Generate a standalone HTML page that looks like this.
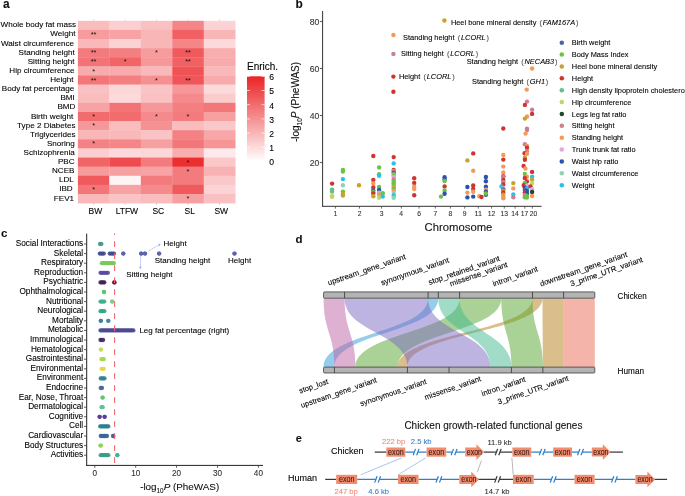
<!DOCTYPE html>
<html><head><meta charset="utf-8"><style>
html,body{margin:0;padding:0;background:#fff;}
svg{display:block;font-family:"Liberation Sans",sans-serif;filter:blur(0.3px);}
</style></head><body>
<svg width="685" height="496" viewBox="0 0 685 496" font-family="Liberation Sans, sans-serif">
<rect x="77.90" y="20.80" width="31.76" height="9.42" fill="rgb(249,189,190)"/>
<rect x="109.36" y="20.80" width="31.76" height="9.42" fill="rgb(251,207,208)"/>
<rect x="140.82" y="20.80" width="31.76" height="9.42" fill="rgb(249,193,194)"/>
<rect x="172.28" y="20.80" width="31.76" height="9.42" fill="rgb(244,134,136)"/>
<rect x="203.74" y="20.80" width="31.76" height="9.42" fill="rgb(251,211,212)"/>
<rect x="77.90" y="29.91" width="31.76" height="9.42" fill="rgb(246,156,157)"/>
<rect x="109.36" y="29.91" width="31.76" height="9.42" fill="rgb(247,163,165)"/>
<rect x="140.82" y="29.91" width="31.76" height="9.42" fill="rgb(248,182,183)"/>
<rect x="172.28" y="29.91" width="31.76" height="9.42" fill="rgb(241,97,99)"/>
<rect x="203.74" y="29.91" width="31.76" height="9.42" fill="rgb(248,182,183)"/>
<rect x="77.90" y="39.03" width="31.76" height="9.42" fill="rgb(249,185,186)"/>
<rect x="109.36" y="39.03" width="31.76" height="9.42" fill="rgb(251,211,212)"/>
<rect x="140.82" y="39.03" width="31.76" height="9.42" fill="rgb(248,182,183)"/>
<rect x="172.28" y="39.03" width="31.76" height="9.42" fill="rgb(244,134,136)"/>
<rect x="203.74" y="39.03" width="31.76" height="9.42" fill="rgb(252,218,219)"/>
<rect x="77.90" y="48.14" width="31.76" height="9.42" fill="rgb(243,123,125)"/>
<rect x="109.36" y="48.14" width="31.76" height="9.42" fill="rgb(243,127,128)"/>
<rect x="140.82" y="48.14" width="31.76" height="9.42" fill="rgb(246,156,157)"/>
<rect x="172.28" y="48.14" width="31.76" height="9.42" fill="rgb(240,90,92)"/>
<rect x="203.74" y="48.14" width="31.76" height="9.42" fill="rgb(248,174,175)"/>
<rect x="77.90" y="57.26" width="31.76" height="9.42" fill="rgb(242,116,118)"/>
<rect x="109.36" y="57.26" width="31.76" height="9.42" fill="rgb(241,101,103)"/>
<rect x="140.82" y="57.26" width="31.76" height="9.42" fill="rgb(246,152,154)"/>
<rect x="172.28" y="57.26" width="31.76" height="9.42" fill="rgb(241,97,99)"/>
<rect x="203.74" y="57.26" width="31.76" height="9.42" fill="rgb(247,171,172)"/>
<rect x="77.90" y="66.38" width="31.76" height="9.42" fill="rgb(247,171,172)"/>
<rect x="109.36" y="66.38" width="31.76" height="9.42" fill="rgb(247,171,172)"/>
<rect x="140.82" y="66.38" width="31.76" height="9.42" fill="rgb(249,185,186)"/>
<rect x="172.28" y="66.38" width="31.76" height="9.42" fill="rgb(239,83,85)"/>
<rect x="203.74" y="66.38" width="31.76" height="9.42" fill="rgb(249,185,186)"/>
<rect x="77.90" y="75.49" width="31.76" height="9.42" fill="rgb(243,119,121)"/>
<rect x="109.36" y="75.49" width="31.76" height="9.42" fill="rgb(243,127,128)"/>
<rect x="140.82" y="75.49" width="31.76" height="9.42" fill="rgb(245,145,146)"/>
<rect x="172.28" y="75.49" width="31.76" height="9.42" fill="rgb(240,86,89)"/>
<rect x="203.74" y="75.49" width="31.76" height="9.42" fill="rgb(247,171,172)"/>
<rect x="77.90" y="84.61" width="31.76" height="9.42" fill="rgb(249,193,194)"/>
<rect x="109.36" y="84.61" width="31.76" height="9.42" fill="rgb(251,215,215)"/>
<rect x="140.82" y="84.61" width="31.76" height="9.42" fill="rgb(250,196,197)"/>
<rect x="172.28" y="84.61" width="31.76" height="9.42" fill="rgb(246,152,154)"/>
<rect x="203.74" y="84.61" width="31.76" height="9.42" fill="rgb(252,218,219)"/>
<rect x="77.90" y="93.72" width="31.76" height="9.42" fill="rgb(249,189,190)"/>
<rect x="109.36" y="93.72" width="31.76" height="9.42" fill="rgb(252,218,219)"/>
<rect x="140.82" y="93.72" width="31.76" height="9.42" fill="rgb(249,193,194)"/>
<rect x="172.28" y="93.72" width="31.76" height="9.42" fill="rgb(244,138,139)"/>
<rect x="203.74" y="93.72" width="31.76" height="9.42" fill="rgb(250,204,204)"/>
<rect x="77.90" y="102.83" width="31.76" height="9.42" fill="rgb(247,163,165)"/>
<rect x="109.36" y="102.83" width="31.76" height="9.42" fill="rgb(242,116,118)"/>
<rect x="140.82" y="102.83" width="31.76" height="9.42" fill="rgb(246,152,154)"/>
<rect x="172.28" y="102.83" width="31.76" height="9.42" fill="rgb(243,127,128)"/>
<rect x="203.74" y="102.83" width="31.76" height="9.42" fill="rgb(243,119,121)"/>
<rect x="77.90" y="111.95" width="31.76" height="9.42" fill="rgb(242,108,110)"/>
<rect x="109.36" y="111.95" width="31.76" height="9.42" fill="rgb(242,108,110)"/>
<rect x="140.82" y="111.95" width="31.76" height="9.42" fill="rgb(244,138,139)"/>
<rect x="172.28" y="111.95" width="31.76" height="9.42" fill="rgb(243,123,125)"/>
<rect x="203.74" y="111.95" width="31.76" height="9.42" fill="rgb(246,160,161)"/>
<rect x="77.90" y="121.06" width="31.76" height="9.42" fill="rgb(246,152,154)"/>
<rect x="109.36" y="121.06" width="31.76" height="9.42" fill="rgb(249,189,190)"/>
<rect x="140.82" y="121.06" width="31.76" height="9.42" fill="rgb(245,145,146)"/>
<rect x="172.28" y="121.06" width="31.76" height="9.42" fill="rgb(249,189,190)"/>
<rect x="203.74" y="121.06" width="31.76" height="9.42" fill="rgb(250,200,201)"/>
<rect x="77.90" y="130.18" width="31.76" height="9.42" fill="rgb(248,182,183)"/>
<rect x="109.36" y="130.18" width="31.76" height="9.42" fill="rgb(249,185,186)"/>
<rect x="140.82" y="130.18" width="31.76" height="9.42" fill="rgb(250,196,197)"/>
<rect x="172.28" y="130.18" width="31.76" height="9.42" fill="rgb(244,130,132)"/>
<rect x="203.74" y="130.18" width="31.76" height="9.42" fill="rgb(247,167,168)"/>
<rect x="77.90" y="139.30" width="31.76" height="9.42" fill="rgb(244,130,132)"/>
<rect x="109.36" y="139.30" width="31.76" height="9.42" fill="rgb(244,134,136)"/>
<rect x="140.82" y="139.30" width="31.76" height="9.42" fill="rgb(246,160,161)"/>
<rect x="172.28" y="139.30" width="31.76" height="9.42" fill="rgb(243,119,121)"/>
<rect x="203.74" y="139.30" width="31.76" height="9.42" fill="rgb(245,149,150)"/>
<rect x="77.90" y="148.41" width="31.76" height="9.42" fill="rgb(251,207,208)"/>
<rect x="109.36" y="148.41" width="31.76" height="9.42" fill="rgb(252,218,219)"/>
<rect x="140.82" y="148.41" width="31.76" height="9.42" fill="rgb(251,215,215)"/>
<rect x="172.28" y="148.41" width="31.76" height="9.42" fill="rgb(248,174,175)"/>
<rect x="203.74" y="148.41" width="31.76" height="9.42" fill="rgb(253,233,233)"/>
<rect x="77.90" y="157.53" width="31.76" height="9.42" fill="rgb(241,101,103)"/>
<rect x="109.36" y="157.53" width="31.76" height="9.42" fill="rgb(239,75,78)"/>
<rect x="140.82" y="157.53" width="31.76" height="9.42" fill="rgb(243,123,125)"/>
<rect x="172.28" y="157.53" width="31.76" height="9.42" fill="rgb(236,46,49)"/>
<rect x="203.74" y="157.53" width="31.76" height="9.42" fill="rgb(250,200,201)"/>
<rect x="77.90" y="166.64" width="31.76" height="9.42" fill="rgb(246,156,157)"/>
<rect x="109.36" y="166.64" width="31.76" height="9.42" fill="rgb(246,160,161)"/>
<rect x="140.82" y="166.64" width="31.76" height="9.42" fill="rgb(247,163,165)"/>
<rect x="172.28" y="166.64" width="31.76" height="9.42" fill="rgb(243,123,125)"/>
<rect x="203.74" y="166.64" width="31.76" height="9.42" fill="rgb(248,178,179)"/>
<rect x="77.90" y="175.76" width="31.76" height="9.42" fill="rgb(240,90,92)"/>
<rect x="109.36" y="175.76" width="31.76" height="9.42" fill="rgb(254,244,244)"/>
<rect x="140.82" y="175.76" width="31.76" height="9.42" fill="rgb(243,123,125)"/>
<rect x="172.28" y="175.76" width="31.76" height="9.42" fill="rgb(243,123,125)"/>
<rect x="203.74" y="175.76" width="31.76" height="9.42" fill="rgb(250,200,201)"/>
<rect x="77.90" y="184.87" width="31.76" height="9.42" fill="rgb(243,119,121)"/>
<rect x="109.36" y="184.87" width="31.76" height="9.42" fill="rgb(247,163,165)"/>
<rect x="140.82" y="184.87" width="31.76" height="9.42" fill="rgb(244,138,139)"/>
<rect x="172.28" y="184.87" width="31.76" height="9.42" fill="rgb(240,90,92)"/>
<rect x="203.74" y="184.87" width="31.76" height="9.42" fill="rgb(251,211,212)"/>
<rect x="77.90" y="193.99" width="31.76" height="9.42" fill="rgb(249,185,186)"/>
<rect x="109.36" y="193.99" width="31.76" height="9.42" fill="rgb(250,196,197)"/>
<rect x="140.82" y="193.99" width="31.76" height="9.42" fill="rgb(249,189,190)"/>
<rect x="172.28" y="193.99" width="31.76" height="9.42" fill="rgb(246,160,161)"/>
<rect x="203.74" y="193.99" width="31.76" height="9.42" fill="rgb(249,193,194)"/>
<text x="93.63" y="37.07" font-size="7.4" text-anchor="middle" fill="#111" stroke-width="0">**</text>
<text x="93.63" y="55.30" font-size="7.4" text-anchor="middle" fill="#111" stroke-width="0">**</text>
<text x="156.55" y="55.30" font-size="7.4" text-anchor="middle" fill="#111" stroke-width="0">*</text>
<text x="188.01" y="55.30" font-size="7.4" text-anchor="middle" fill="#111" stroke-width="0">**</text>
<text x="93.63" y="64.42" font-size="7.4" text-anchor="middle" fill="#111" stroke-width="0">**</text>
<text x="125.09" y="64.42" font-size="7.4" text-anchor="middle" fill="#111" stroke-width="0">*</text>
<text x="188.01" y="64.42" font-size="7.4" text-anchor="middle" fill="#111" stroke-width="0">**</text>
<text x="93.63" y="73.53" font-size="7.4" text-anchor="middle" fill="#111" stroke-width="0">*</text>
<text x="93.63" y="82.65" font-size="7.4" text-anchor="middle" fill="#111" stroke-width="0">**</text>
<text x="156.55" y="82.65" font-size="7.4" text-anchor="middle" fill="#111" stroke-width="0">*</text>
<text x="188.01" y="82.65" font-size="7.4" text-anchor="middle" fill="#111" stroke-width="0">**</text>
<text x="93.63" y="119.11" font-size="7.4" text-anchor="middle" fill="#111" stroke-width="0">*</text>
<text x="156.55" y="119.11" font-size="7.4" text-anchor="middle" fill="#111" stroke-width="0">*</text>
<text x="188.01" y="119.11" font-size="7.4" text-anchor="middle" fill="#111" stroke-width="0">*</text>
<text x="93.63" y="128.22" font-size="7.4" text-anchor="middle" fill="#111" stroke-width="0">*</text>
<text x="93.63" y="146.45" font-size="7.4" text-anchor="middle" fill="#111" stroke-width="0">*</text>
<text x="188.01" y="164.68" font-size="7.4" text-anchor="middle" fill="#111" stroke-width="0">*</text>
<text x="188.01" y="173.80" font-size="7.4" text-anchor="middle" fill="#111" stroke-width="0">*</text>
<text x="93.63" y="192.03" font-size="7.4" text-anchor="middle" fill="#111" stroke-width="0">*</text>
<text x="188.01" y="201.14" font-size="7.4" text-anchor="middle" fill="#111" stroke-width="0">*</text>
<text x="76.10" y="27.37" font-size="8.1" text-anchor="end" fill="#000"  stroke="#000" stroke-width="0.1">Whole body fat mass</text>
<text x="75.40" y="36.49" font-size="8.1" text-anchor="end" fill="#000"  stroke="#000" stroke-width="0.1">Weight</text>
<text x="74.00" y="45.60" font-size="8.1" text-anchor="end" fill="#000"  stroke="#000" stroke-width="0.1">Waist circumference</text>
<text x="74.75" y="54.72" font-size="8.1" text-anchor="end" fill="#000"  stroke="#000" stroke-width="0.1">Standing height</text>
<text x="74.50" y="63.83" font-size="8.1" text-anchor="end" fill="#000"  stroke="#000" stroke-width="0.1">Sitting height</text>
<text x="74.60" y="72.95" font-size="8.1" text-anchor="end" fill="#000"  stroke="#000" stroke-width="0.1">Hip circumference</text>
<text x="73.60" y="82.06" font-size="8.1" text-anchor="end" fill="#000"  stroke="#000" stroke-width="0.1">Height</text>
<text x="74.20" y="91.18" font-size="8.1" text-anchor="end" fill="#000"  stroke="#000" stroke-width="0.1">Body fat percentage</text>
<text x="74.80" y="100.29" font-size="8.1" text-anchor="end" fill="#000"  stroke="#000" stroke-width="0.1">BMI</text>
<text x="75.40" y="109.41" font-size="8.1" text-anchor="end" fill="#000"  stroke="#000" stroke-width="0.1">BMD</text>
<text x="73.20" y="118.52" font-size="8.1" text-anchor="end" fill="#000"  stroke="#000" stroke-width="0.1">Birth weight</text>
<text x="75.60" y="127.64" font-size="8.1" text-anchor="end" fill="#000"  stroke="#000" stroke-width="0.1">Type 2 Diabetes</text>
<text x="75.60" y="136.75" font-size="8.1" text-anchor="end" fill="#000"  stroke="#000" stroke-width="0.1">Triglycerides</text>
<text x="74.80" y="145.87" font-size="8.1" text-anchor="end" fill="#000"  stroke="#000" stroke-width="0.1">Snoring</text>
<text x="74.80" y="154.98" font-size="8.1" text-anchor="end" fill="#000"  stroke="#000" stroke-width="0.1">Schizophrenia</text>
<text x="74.60" y="164.10" font-size="8.1" text-anchor="end" fill="#000"  stroke="#000" stroke-width="0.1">PBC</text>
<text x="74.50" y="173.21" font-size="8.1" text-anchor="end" fill="#000"  stroke="#000" stroke-width="0.1">NCEB</text>
<text x="73.80" y="182.33" font-size="8.1" text-anchor="end" fill="#000"  stroke="#000" stroke-width="0.1">LDL</text>
<text x="72.70" y="191.44" font-size="8.1" text-anchor="end" fill="#000"  stroke="#000" stroke-width="0.1">IBD</text>
<text x="74.10" y="200.56" font-size="8.1" text-anchor="end" fill="#000"  stroke="#000" stroke-width="0.1">FEV1</text>
<text x="95.43" y="214.46" font-size="8.5" text-anchor="middle" fill="#000"  stroke="#000" stroke-width="0.1">BW</text>
<line x1="93.63" y1="203.1" x2="93.63" y2="205" stroke="#bbb" stroke-width="0.6"/>
<line x1="93.63" y1="19" x2="93.63" y2="20.8" stroke="#ccc" stroke-width="0.6"/>
<text x="126.89" y="214.46" font-size="8.5" text-anchor="middle" fill="#000"  stroke="#000" stroke-width="0.1">LTFW</text>
<line x1="125.09" y1="203.1" x2="125.09" y2="205" stroke="#bbb" stroke-width="0.6"/>
<line x1="125.09" y1="19" x2="125.09" y2="20.8" stroke="#ccc" stroke-width="0.6"/>
<text x="158.35" y="214.46" font-size="8.5" text-anchor="middle" fill="#000"  stroke="#000" stroke-width="0.1">SC</text>
<line x1="156.55" y1="203.1" x2="156.55" y2="205" stroke="#bbb" stroke-width="0.6"/>
<line x1="156.55" y1="19" x2="156.55" y2="20.8" stroke="#ccc" stroke-width="0.6"/>
<text x="189.81" y="214.46" font-size="8.5" text-anchor="middle" fill="#000"  stroke="#000" stroke-width="0.1">SL</text>
<line x1="188.01" y1="203.1" x2="188.01" y2="205" stroke="#bbb" stroke-width="0.6"/>
<line x1="188.01" y1="19" x2="188.01" y2="20.8" stroke="#ccc" stroke-width="0.6"/>
<text x="221.27" y="214.46" font-size="8.5" text-anchor="middle" fill="#000"  stroke="#000" stroke-width="0.1">SW</text>
<line x1="219.47" y1="203.1" x2="219.47" y2="205" stroke="#bbb" stroke-width="0.6"/>
<line x1="219.47" y1="19" x2="219.47" y2="20.8" stroke="#ccc" stroke-width="0.6"/>
<text x="3.0" y="8.1" font-size="11.9" font-weight="bold" fill="#111" stroke="#111" stroke-width="0.1">a</text>
<defs><linearGradient id="lg" x1="0" y1="1" x2="0" y2="0"><stop offset="0.000" stop-color="rgb(255,255,255)"/><stop offset="0.083" stop-color="rgb(253,237,237)"/><stop offset="0.167" stop-color="rgb(252,218,219)"/><stop offset="0.250" stop-color="rgb(250,200,201)"/><stop offset="0.333" stop-color="rgb(248,182,183)"/><stop offset="0.417" stop-color="rgb(247,163,165)"/><stop offset="0.500" stop-color="rgb(245,145,146)"/><stop offset="0.583" stop-color="rgb(243,127,128)"/><stop offset="0.667" stop-color="rgb(242,108,110)"/><stop offset="0.750" stop-color="rgb(240,90,92)"/><stop offset="0.833" stop-color="rgb(238,72,74)"/><stop offset="0.917" stop-color="rgb(237,53,56)"/><stop offset="1.000" stop-color="rgb(235,35,38)"/></linearGradient></defs>
<rect x="247" y="76.3" width="17.6" height="85.2" fill="url(#lg)"/>
<line x1="247" y1="161.50" x2="250" y2="161.50" stroke="#fff" stroke-width="0.7"/>
<line x1="261.6" y1="161.50" x2="264.6" y2="161.50" stroke="#fff" stroke-width="0.7"/>
<text x="269.20" y="165.30" font-size="8.6" text-anchor="start" fill="#000"  stroke="#000" stroke-width="0.1">0</text>
<line x1="247" y1="147.30" x2="250" y2="147.30" stroke="#fff" stroke-width="0.7"/>
<line x1="261.6" y1="147.30" x2="264.6" y2="147.30" stroke="#fff" stroke-width="0.7"/>
<text x="269.20" y="151.10" font-size="8.6" text-anchor="start" fill="#000"  stroke="#000" stroke-width="0.1">1</text>
<line x1="247" y1="133.10" x2="250" y2="133.10" stroke="#fff" stroke-width="0.7"/>
<line x1="261.6" y1="133.10" x2="264.6" y2="133.10" stroke="#fff" stroke-width="0.7"/>
<text x="269.20" y="136.90" font-size="8.6" text-anchor="start" fill="#000"  stroke="#000" stroke-width="0.1">2</text>
<line x1="247" y1="118.90" x2="250" y2="118.90" stroke="#fff" stroke-width="0.7"/>
<line x1="261.6" y1="118.90" x2="264.6" y2="118.90" stroke="#fff" stroke-width="0.7"/>
<text x="269.20" y="122.70" font-size="8.6" text-anchor="start" fill="#000"  stroke="#000" stroke-width="0.1">3</text>
<line x1="247" y1="104.70" x2="250" y2="104.70" stroke="#fff" stroke-width="0.7"/>
<line x1="261.6" y1="104.70" x2="264.6" y2="104.70" stroke="#fff" stroke-width="0.7"/>
<text x="269.20" y="108.50" font-size="8.6" text-anchor="start" fill="#000"  stroke="#000" stroke-width="0.1">4</text>
<line x1="247" y1="90.50" x2="250" y2="90.50" stroke="#fff" stroke-width="0.7"/>
<line x1="261.6" y1="90.50" x2="264.6" y2="90.50" stroke="#fff" stroke-width="0.7"/>
<text x="269.20" y="94.30" font-size="8.6" text-anchor="start" fill="#000"  stroke="#000" stroke-width="0.1">5</text>
<line x1="247" y1="76.30" x2="250" y2="76.30" stroke="#fff" stroke-width="0.7"/>
<line x1="261.6" y1="76.30" x2="264.6" y2="76.30" stroke="#fff" stroke-width="0.7"/>
<text x="269.20" y="80.10" font-size="8.6" text-anchor="start" fill="#000"  stroke="#000" stroke-width="0.1">6</text>
<text x="247.00" y="69.60" font-size="10" text-anchor="start" fill="#000"  stroke="#000" stroke-width="0.1">Enrich.</text>
<text x="295.6" y="8.0" font-size="11.9" font-weight="bold" fill="#111" stroke="#111" stroke-width="0.1">b</text>
<line x1="322.6" y1="11" x2="322.6" y2="206.6" stroke="#333" stroke-width="1"/>
<line x1="322.1" y1="206.3" x2="541.6" y2="206.3" stroke="#333" stroke-width="1"/>
<line x1="319.8" y1="162.50" x2="322.6" y2="162.50" stroke="#333" stroke-width="0.8"/>
<text x="319.4" y="165.80" font-size="9.2" text-anchor="end" fill="#333" textLength="9.6" lengthAdjust="spacingAndGlyphs" stroke="#333" stroke-width="0.1">20</text>
<line x1="319.8" y1="115.50" x2="322.6" y2="115.50" stroke="#333" stroke-width="0.8"/>
<text x="319.4" y="118.80" font-size="9.2" text-anchor="end" fill="#333" textLength="9.6" lengthAdjust="spacingAndGlyphs" stroke="#333" stroke-width="0.1">40</text>
<line x1="319.8" y1="68.50" x2="322.6" y2="68.50" stroke="#333" stroke-width="0.8"/>
<text x="319.4" y="71.80" font-size="9.2" text-anchor="end" fill="#333" textLength="9.6" lengthAdjust="spacingAndGlyphs" stroke="#333" stroke-width="0.1">60</text>
<line x1="319.8" y1="21.50" x2="322.6" y2="21.50" stroke="#333" stroke-width="0.8"/>
<text x="319.4" y="24.80" font-size="9.2" text-anchor="end" fill="#333" textLength="9.6" lengthAdjust="spacingAndGlyphs" stroke="#333" stroke-width="0.1">80</text>
<line x1="335.4" y1="206.3" x2="335.4" y2="208.6" stroke="#444" stroke-width="0.8"/>
<text x="335.40" y="215.83" font-size="7.3" text-anchor="middle" fill="#333" textLength="3.75" lengthAdjust="spacingAndGlyphs" stroke="#333" stroke-width="0.1">1</text>
<line x1="359.5" y1="206.3" x2="359.5" y2="208.6" stroke="#444" stroke-width="0.8"/>
<text x="359.50" y="215.83" font-size="7.3" text-anchor="middle" fill="#333" textLength="3.75" lengthAdjust="spacingAndGlyphs" stroke="#333" stroke-width="0.1">2</text>
<line x1="381.5" y1="206.3" x2="381.5" y2="208.6" stroke="#444" stroke-width="0.8"/>
<text x="381.50" y="215.83" font-size="7.3" text-anchor="middle" fill="#333" textLength="3.75" lengthAdjust="spacingAndGlyphs" stroke="#333" stroke-width="0.1">3</text>
<line x1="401.3" y1="206.3" x2="401.3" y2="208.6" stroke="#444" stroke-width="0.8"/>
<text x="401.00" y="215.83" font-size="7.3" text-anchor="middle" fill="#333" textLength="3.75" lengthAdjust="spacingAndGlyphs" stroke="#333" stroke-width="0.1">4</text>
<line x1="419.1" y1="206.3" x2="419.1" y2="208.6" stroke="#444" stroke-width="0.8"/>
<text x="419.10" y="215.83" font-size="7.3" text-anchor="middle" fill="#333" textLength="3.75" lengthAdjust="spacingAndGlyphs" stroke="#333" stroke-width="0.1">6</text>
<line x1="435.3" y1="206.3" x2="435.3" y2="208.6" stroke="#444" stroke-width="0.8"/>
<text x="435.30" y="215.83" font-size="7.3" text-anchor="middle" fill="#333" textLength="3.75" lengthAdjust="spacingAndGlyphs" stroke="#333" stroke-width="0.1">7</text>
<line x1="450.4" y1="206.3" x2="450.4" y2="208.6" stroke="#444" stroke-width="0.8"/>
<text x="450.40" y="215.83" font-size="7.3" text-anchor="middle" fill="#333" textLength="3.75" lengthAdjust="spacingAndGlyphs" stroke="#333" stroke-width="0.1">8</text>
<line x1="464.7" y1="206.3" x2="464.7" y2="208.6" stroke="#444" stroke-width="0.8"/>
<text x="464.70" y="215.83" font-size="7.3" text-anchor="middle" fill="#333" textLength="3.75" lengthAdjust="spacingAndGlyphs" stroke="#333" stroke-width="0.1">9</text>
<line x1="478.3" y1="206.3" x2="478.3" y2="208.6" stroke="#444" stroke-width="0.8"/>
<text x="478.30" y="215.83" font-size="7.3" text-anchor="middle" fill="#333" textLength="7.50" lengthAdjust="spacingAndGlyphs" stroke="#333" stroke-width="0.1">11</text>
<line x1="491.6" y1="206.3" x2="491.6" y2="208.6" stroke="#444" stroke-width="0.8"/>
<text x="491.60" y="215.83" font-size="7.3" text-anchor="middle" fill="#333" textLength="7.50" lengthAdjust="spacingAndGlyphs" stroke="#333" stroke-width="0.1">12</text>
<line x1="504.3" y1="206.3" x2="504.3" y2="208.6" stroke="#444" stroke-width="0.8"/>
<text x="504.30" y="215.83" font-size="7.3" text-anchor="middle" fill="#333" textLength="7.50" lengthAdjust="spacingAndGlyphs" stroke="#333" stroke-width="0.1">13</text>
<line x1="515.1" y1="206.3" x2="515.1" y2="208.6" stroke="#444" stroke-width="0.8"/>
<text x="515.10" y="215.83" font-size="7.3" text-anchor="middle" fill="#333" textLength="7.50" lengthAdjust="spacingAndGlyphs" stroke="#333" stroke-width="0.1">14</text>
<line x1="524.8" y1="206.3" x2="524.8" y2="208.6" stroke="#444" stroke-width="0.8"/>
<text x="524.40" y="215.83" font-size="7.3" text-anchor="middle" fill="#333" textLength="7.50" lengthAdjust="spacingAndGlyphs" stroke="#333" stroke-width="0.1">17</text>
<line x1="532.3" y1="206.3" x2="532.3" y2="208.6" stroke="#444" stroke-width="0.8"/>
<text x="533.60" y="215.83" font-size="7.3" text-anchor="middle" fill="#333" textLength="7.50" lengthAdjust="spacingAndGlyphs" stroke="#333" stroke-width="0.1">20</text>
<text x="458.50" y="231.07" font-size="11.3" text-anchor="middle" fill="#111"  stroke="#111" stroke-width="0.1">Chromosome</text>
<g transform="translate(299.4,102) rotate(-90)"><text x="0" y="0" font-size="10" text-anchor="middle" fill="#111" stroke="#111" stroke-width="0.1">-log<tspan font-size="6.5" dy="3.0">10</tspan><tspan dy="-3.0" font-style="italic">P</tspan> (PheWAS)</text></g>
<circle cx="332.1" cy="183.6" r="2.2" fill="#cf3530"/>
<circle cx="332.1" cy="189.6" r="2.2" fill="#62c187"/>
<circle cx="332.1" cy="191.6" r="2.2" fill="#62c187"/>
<circle cx="332.1" cy="196.6" r="2.2" fill="#c8a22c"/>
<circle cx="332.1" cy="196.0" r="2.2" fill="#b9d86e"/>
<circle cx="342.9" cy="170.0" r="2.2" fill="#6cc245"/>
<circle cx="342.9" cy="171.6" r="2.2" fill="#6cc245"/>
<circle cx="342.9" cy="179.1" r="2.2" fill="#27c0ea"/>
<circle cx="342.9" cy="185.3" r="2.2" fill="#8fd3b6"/>
<circle cx="342.9" cy="191.6" r="2.2" fill="#6cc245"/>
<circle cx="342.9" cy="195.6" r="2.2" fill="#c8a22c"/>
<circle cx="342.9" cy="194.0" r="2.2" fill="#c8a22c"/>
<circle cx="359.0" cy="185.3" r="2.2" fill="#c8a22c"/>
<circle cx="373.3" cy="156.0" r="2.2" fill="#cf3530"/>
<circle cx="373.3" cy="179.9" r="2.2" fill="#cf3530"/>
<circle cx="373.3" cy="183.5" r="2.2" fill="#f39a5a"/>
<circle cx="373.3" cy="187.4" r="2.2" fill="#cf3530"/>
<circle cx="373.3" cy="190.4" r="2.2" fill="#4664aa"/>
<circle cx="373.3" cy="192.3" r="2.2" fill="#6cc245"/>
<circle cx="373.3" cy="193.5" r="2.2" fill="#cf3530"/>
<circle cx="373.3" cy="196.2" r="2.2" fill="#c8a22c"/>
<circle cx="379.1" cy="167.4" r="2.2" fill="#6cc245"/>
<circle cx="379.1" cy="174.3" r="2.2" fill="#6cc245"/>
<circle cx="379.1" cy="175.8" r="2.2" fill="#27c0ea"/>
<circle cx="379.1" cy="187.0" r="2.2" fill="#6cc245"/>
<circle cx="379.1" cy="190.0" r="2.2" fill="#2b53ae"/>
<circle cx="379.1" cy="192.6" r="2.2" fill="#8fd3b6"/>
<circle cx="379.1" cy="194.5" r="2.2" fill="#f39a5a"/>
<circle cx="379.1" cy="197.7" r="2.2" fill="#b9d86e"/>
<circle cx="382.8" cy="193.3" r="2.2" fill="#6cc245"/>
<circle cx="382.8" cy="196.6" r="2.2" fill="#27c0ea"/>
<circle cx="393.4" cy="35.0" r="2.2" fill="#f39a5a"/>
<circle cx="393.4" cy="53.9" r="2.2" fill="#c9808f"/>
<circle cx="393.4" cy="76.6" r="2.2" fill="#cf3530"/>
<circle cx="393.4" cy="91.7" r="2.2" fill="#cf3530"/>
<circle cx="393.7" cy="157.1" r="2.2" fill="#cf3530"/>
<circle cx="393.7" cy="163.4" r="2.2" fill="#27c0ea"/>
<circle cx="393.7" cy="170.0" r="2.2" fill="#cf3530"/>
<circle cx="393.7" cy="171.2" r="2.2" fill="#f39a5a"/>
<circle cx="393.7" cy="172.5" r="2.2" fill="#4664aa"/>
<circle cx="393.7" cy="174.5" r="2.2" fill="#f39a5a"/>
<circle cx="393.7" cy="175.8" r="2.2" fill="#6cc245"/>
<circle cx="393.7" cy="177.0" r="2.2" fill="#e0a8d8"/>
<circle cx="393.7" cy="179.5" r="2.2" fill="#c9808f"/>
<circle cx="393.7" cy="181.5" r="2.2" fill="#6cc245"/>
<circle cx="393.7" cy="183.5" r="2.2" fill="#6cc245"/>
<circle cx="393.7" cy="185.5" r="2.2" fill="#6cc245"/>
<circle cx="393.7" cy="187.5" r="2.2" fill="#f39a5a"/>
<circle cx="393.7" cy="188.8" r="2.2" fill="#6cc245"/>
<circle cx="393.7" cy="190.8" r="2.2" fill="#f39a5a"/>
<circle cx="393.7" cy="193.0" r="2.2" fill="#8fd3b6"/>
<circle cx="393.7" cy="195.5" r="2.2" fill="#27c0ea"/>
<circle cx="393.7" cy="197.7" r="2.2" fill="#8fd3b6"/>
<circle cx="414.2" cy="178.2" r="2.2" fill="#cf3530"/>
<circle cx="414.2" cy="183.0" r="2.2" fill="#cf3530"/>
<circle cx="414.2" cy="186.7" r="2.2" fill="#f39a5a"/>
<circle cx="414.2" cy="189.0" r="2.2" fill="#f39a5a"/>
<circle cx="414.2" cy="195.2" r="2.2" fill="#cf3530"/>
<circle cx="441.0" cy="196.6" r="2.2" fill="#6cc245"/>
<circle cx="444.6" cy="177.2" r="2.2" fill="#2b53ae"/>
<circle cx="444.6" cy="179.4" r="2.2" fill="#2b53ae"/>
<circle cx="444.6" cy="181.0" r="2.2" fill="#6cc245"/>
<circle cx="444.6" cy="186.4" r="2.2" fill="#cf3530"/>
<circle cx="444.6" cy="190.4" r="2.2" fill="#6cc245"/>
<circle cx="444.6" cy="193.7" r="2.2" fill="#2b53ae"/>
<circle cx="444.4" cy="20.5" r="2.2" fill="#c8a22c"/>
<circle cx="467.4" cy="160.4" r="2.2" fill="#c8a22c"/>
<circle cx="467.4" cy="187.0" r="2.2" fill="#2b53ae"/>
<circle cx="467.4" cy="192.6" r="2.2" fill="#f39a5a"/>
<circle cx="467.4" cy="197.4" r="2.2" fill="#2b53ae"/>
<circle cx="473.2" cy="153.4" r="2.2" fill="#cf3530"/>
<circle cx="473.2" cy="170.7" r="2.2" fill="#f39a5a"/>
<circle cx="473.2" cy="185.5" r="2.2" fill="#cf3530"/>
<circle cx="473.2" cy="188.9" r="2.2" fill="#cf3530"/>
<circle cx="473.2" cy="191.8" r="2.2" fill="#f39a5a"/>
<circle cx="473.2" cy="196.6" r="2.2" fill="#2b53ae"/>
<circle cx="479.3" cy="196.2" r="2.2" fill="#f39a5a"/>
<circle cx="481.5" cy="197.0" r="2.2" fill="#cf3530"/>
<circle cx="485.9" cy="177.0" r="2.2" fill="#2b53ae"/>
<circle cx="485.9" cy="181.3" r="2.2" fill="#2b53ae"/>
<circle cx="485.9" cy="186.7" r="2.2" fill="#2b53ae"/>
<circle cx="485.9" cy="189.6" r="2.2" fill="#f39a5a"/>
<circle cx="485.9" cy="191.8" r="2.2" fill="#2b53ae"/>
<circle cx="485.9" cy="194.7" r="2.2" fill="#2b53ae"/>
<circle cx="485.9" cy="193.5" r="2.2" fill="#6cc245"/>
<circle cx="503.3" cy="128.5" r="2.2" fill="#cf3530"/>
<circle cx="503.3" cy="155.0" r="2.2" fill="#f39a5a"/>
<circle cx="503.3" cy="159.6" r="2.2" fill="#cf3530"/>
<circle cx="503.3" cy="166.6" r="2.2" fill="#f39a5a"/>
<circle cx="503.3" cy="172.4" r="2.2" fill="#f39a5a"/>
<circle cx="503.3" cy="176.3" r="2.2" fill="#cf3530"/>
<circle cx="503.3" cy="176.8" r="2.2" fill="#c9808f"/>
<circle cx="503.3" cy="179.9" r="2.2" fill="#cf3530"/>
<circle cx="503.3" cy="182.3" r="2.2" fill="#c9808f"/>
<circle cx="503.3" cy="184.4" r="2.2" fill="#cf3530"/>
<circle cx="501.5" cy="186.4" r="2.2" fill="#27c0ea"/>
<circle cx="503.3" cy="188.4" r="2.2" fill="#e0a8d8"/>
<circle cx="503.3" cy="189.5" r="2.2" fill="#4664aa"/>
<circle cx="503.3" cy="190.8" r="2.2" fill="#c8a22c"/>
<circle cx="503.3" cy="192.4" r="2.2" fill="#cf3530"/>
<circle cx="503.3" cy="194.8" r="2.2" fill="#c8a22c"/>
<circle cx="503.3" cy="197.3" r="2.2" fill="#f39a5a"/>
<circle cx="503.3" cy="198.2" r="2.2" fill="#f39a5a"/>
<circle cx="513.3" cy="183.1" r="2.2" fill="#c8a22c"/>
<circle cx="513.3" cy="188.4" r="2.2" fill="#f39a5a"/>
<circle cx="513.3" cy="194.4" r="2.2" fill="#27c0ea"/>
<circle cx="513.3" cy="197.3" r="2.2" fill="#c9808f"/>
<circle cx="532.1" cy="68.5" r="2.2" fill="#f39a5a"/>
<circle cx="526.7" cy="89.6" r="2.2" fill="#f39a5a"/>
<circle cx="527.0" cy="101.6" r="2.2" fill="#c9808f"/>
<circle cx="524.9" cy="104.9" r="2.2" fill="#cf3530"/>
<circle cx="532.1" cy="109.7" r="2.2" fill="#c9808f"/>
<circle cx="532.1" cy="113.9" r="2.2" fill="#cf3530"/>
<circle cx="527.0" cy="116.5" r="2.2" fill="#f39a5a"/>
<circle cx="524.9" cy="118.6" r="2.2" fill="#c8a22c"/>
<circle cx="527.0" cy="128.6" r="2.2" fill="#c9808f"/>
<circle cx="527.0" cy="130.1" r="2.2" fill="#c9808f"/>
<circle cx="525.6" cy="133.6" r="2.2" fill="#f39a5a"/>
<circle cx="524.9" cy="144.2" r="2.2" fill="#c9808f"/>
<circle cx="527.0" cy="146.0" r="2.2" fill="#f39a5a"/>
<circle cx="527.0" cy="147.7" r="2.2" fill="#cf3530"/>
<circle cx="527.0" cy="151.1" r="2.2" fill="#c9808f"/>
<circle cx="524.6" cy="153.3" r="2.2" fill="#cf3530"/>
<circle cx="527.0" cy="153.8" r="2.2" fill="#f39a5a"/>
<circle cx="524.9" cy="157.8" r="2.2" fill="#c8a22c"/>
<circle cx="524.9" cy="159.8" r="2.2" fill="#cf3530"/>
<circle cx="523.6" cy="165.9" r="2.2" fill="#cf3530"/>
<circle cx="525.4" cy="168.5" r="2.2" fill="#f39a5a"/>
<circle cx="524.8" cy="173.9" r="2.2" fill="#6cc245"/>
<circle cx="526.9" cy="176.7" r="2.2" fill="#f39a5a"/>
<circle cx="524.8" cy="178.0" r="2.2" fill="#cf3530"/>
<circle cx="526.9" cy="181.5" r="2.2" fill="#cf3530"/>
<circle cx="524.8" cy="183.0" r="2.2" fill="#6cc245"/>
<circle cx="523.8" cy="185.2" r="2.2" fill="#cf3530"/>
<circle cx="526.9" cy="186.0" r="2.2" fill="#e0a8d8"/>
<circle cx="524.8" cy="187.5" r="2.2" fill="#2b53ae"/>
<circle cx="526.9" cy="188.4" r="2.2" fill="#27c0ea"/>
<circle cx="524.8" cy="190.0" r="2.2" fill="#4664aa"/>
<circle cx="526.9" cy="191.0" r="2.2" fill="#2b53ae"/>
<circle cx="524.8" cy="192.5" r="2.2" fill="#cf3530"/>
<circle cx="526.9" cy="193.5" r="2.2" fill="#2b53ae"/>
<circle cx="524.8" cy="195.0" r="2.2" fill="#c9808f"/>
<circle cx="526.9" cy="196.0" r="2.2" fill="#6cc245"/>
<circle cx="524.8" cy="197.3" r="2.2" fill="#6cc245"/>
<circle cx="526.9" cy="197.6" r="2.2" fill="#6cc245"/>
<circle cx="532.1" cy="171.9" r="2.2" fill="#cf3530"/>
<circle cx="532.1" cy="176.7" r="2.2" fill="#27c0ea"/>
<circle cx="532.1" cy="179.5" r="2.2" fill="#c8a22c"/>
<circle cx="532.1" cy="183.1" r="2.2" fill="#b9d86e"/>
<circle cx="530.5" cy="186.4" r="2.2" fill="#cf3530"/>
<circle cx="532.1" cy="189.2" r="2.2" fill="#e0a8d8"/>
<circle cx="532.1" cy="192.0" r="2.2" fill="#1d4a2b"/>
<circle cx="532.1" cy="196.0" r="2.2" fill="#f39a5a"/>
<text x="450.9" y="24.96" font-size="7.4" fill="#000" stroke="#000" stroke-width="0.1">Heel bone mineral density<tspan dx="3.2" fill="#555" stroke="#555" stroke-width="0.1">(</tspan><tspan dx="0.8" font-style="italic">FAM167A</tspan><tspan dx="0.8" fill="#555" stroke="#555" stroke-width="0.1">)</tspan></text>
<text x="403.1" y="39.96" font-size="7.4" fill="#000" stroke="#000" stroke-width="0.1">Standing height<tspan dx="3.2" fill="#555" stroke="#555" stroke-width="0.1">(</tspan><tspan dx="0.8" font-style="italic">LCORL</tspan><tspan dx="0.8" fill="#555" stroke="#555" stroke-width="0.1">)</tspan></text>
<text x="401.0" y="55.96" font-size="7.4" fill="#000" stroke="#000" stroke-width="0.1">Sitting height<tspan dx="3.2" fill="#555" stroke="#555" stroke-width="0.1">(</tspan><tspan dx="0.8" font-style="italic">LCORL</tspan><tspan dx="0.8" fill="#555" stroke="#555" stroke-width="0.1">)</tspan></text>
<text x="466.7" y="64.36" font-size="7.4" fill="#000" stroke="#000" stroke-width="0.1">Standing height<tspan dx="3.2" fill="#555" stroke="#555" stroke-width="0.1">(</tspan><tspan dx="0.8" font-style="italic">NECAB3</tspan><tspan dx="0.8" fill="#555" stroke="#555" stroke-width="0.1">)</tspan></text>
<text x="398.9" y="78.86" font-size="7.4" fill="#000" stroke="#000" stroke-width="0.1">Height<tspan dx="3.2" fill="#555" stroke="#555" stroke-width="0.1">(</tspan><tspan dx="0.8" font-style="italic">LCORL</tspan><tspan dx="0.8" fill="#555" stroke="#555" stroke-width="0.1">)</tspan></text>
<text x="472.0" y="84.16" font-size="7.4" fill="#000" stroke="#000" stroke-width="0.1">Standing height<tspan dx="3.2" fill="#555" stroke="#555" stroke-width="0.1">(</tspan><tspan dx="0.8" font-style="italic">GH1</tspan><tspan dx="0.8" fill="#555" stroke="#555" stroke-width="0.1">)</tspan></text>
<circle cx="561.8" cy="42.70" r="2.25" fill="#4664aa"/>
<text x="571.80" y="45.36" font-size="7.4" text-anchor="start" fill="#000"  stroke="#000" stroke-width="0.1">Birth weight</text>
<circle cx="561.8" cy="54.57" r="2.25" fill="#6cc245"/>
<text x="571.80" y="57.23" font-size="7.4" text-anchor="start" fill="#000"  stroke="#000" stroke-width="0.1">Body Mass Index</text>
<circle cx="561.8" cy="66.44" r="2.25" fill="#c8a22c"/>
<text x="571.80" y="69.10" font-size="7.4" text-anchor="start" fill="#000"  stroke="#000" stroke-width="0.1">Heel bone mineral density</text>
<circle cx="561.8" cy="78.31" r="2.25" fill="#cf3530"/>
<text x="571.80" y="80.97" font-size="7.4" text-anchor="start" fill="#000"  stroke="#000" stroke-width="0.1">Height</text>
<circle cx="561.8" cy="90.18" r="2.25" fill="#62c187"/>
<text x="571.80" y="92.84" font-size="7.4" text-anchor="start" fill="#000"  stroke="#000" stroke-width="0.1">High density lipoprotein cholesterol</text>
<circle cx="561.8" cy="102.05" r="2.25" fill="#b9d86e"/>
<text x="571.80" y="104.71" font-size="7.4" text-anchor="start" fill="#000"  stroke="#000" stroke-width="0.1">Hip circumference</text>
<circle cx="561.8" cy="113.92" r="2.25" fill="#1d4a2b"/>
<text x="571.80" y="116.58" font-size="7.4" text-anchor="start" fill="#000"  stroke="#000" stroke-width="0.1">Legs leg fat ratio</text>
<circle cx="561.8" cy="125.79" r="2.25" fill="#c9808f"/>
<text x="571.80" y="128.45" font-size="7.4" text-anchor="start" fill="#000"  stroke="#000" stroke-width="0.1">Sitting height</text>
<circle cx="561.8" cy="137.66" r="2.25" fill="#f39a5a"/>
<text x="571.80" y="140.32" font-size="7.4" text-anchor="start" fill="#000"  stroke="#000" stroke-width="0.1">Standing height</text>
<circle cx="561.8" cy="149.53" r="2.25" fill="#e0a8d8"/>
<text x="571.80" y="152.19" font-size="7.4" text-anchor="start" fill="#000"  stroke="#000" stroke-width="0.1">Trunk trunk fat ratio</text>
<circle cx="561.8" cy="161.40" r="2.25" fill="#2b53ae"/>
<text x="571.80" y="164.06" font-size="7.4" text-anchor="start" fill="#000"  stroke="#000" stroke-width="0.1">Waist hip ratio</text>
<circle cx="561.8" cy="173.27" r="2.25" fill="#8fd3b6"/>
<text x="571.80" y="175.93" font-size="7.4" text-anchor="start" fill="#000"  stroke="#000" stroke-width="0.1">Waist circumference</text>
<circle cx="561.8" cy="185.14" r="2.25" fill="#27c0ea"/>
<text x="571.80" y="187.80" font-size="7.4" text-anchor="start" fill="#000"  stroke="#000" stroke-width="0.1">Weight</text>
<text x="1.0" y="236.6" font-size="11.5" font-weight="bold" fill="#111" stroke="#111" stroke-width="0.1">c</text>
<line x1="86.7" y1="233.6" x2="86.7" y2="465.9" stroke="#222" stroke-width="1"/>
<line x1="86.2" y1="465.4" x2="263" y2="465.4" stroke="#222" stroke-width="1"/>
<line x1="84.0" y1="244.00" x2="86.7" y2="244.00" stroke="#333" stroke-width="0.8"/>
<text x="83.20" y="246.07" font-size="8.25" text-anchor="end" fill="#000"  stroke="#000" stroke-width="0.1">Social Interactions</text>
<line x1="84.0" y1="253.60" x2="86.7" y2="253.60" stroke="#333" stroke-width="0.8"/>
<text x="83.20" y="255.67" font-size="8.25" text-anchor="end" fill="#000"  stroke="#000" stroke-width="0.1">Skeletal</text>
<line x1="84.0" y1="263.20" x2="86.7" y2="263.20" stroke="#333" stroke-width="0.8"/>
<text x="83.20" y="265.27" font-size="8.25" text-anchor="end" fill="#000"  stroke="#000" stroke-width="0.1">Respiratory</text>
<line x1="84.0" y1="272.80" x2="86.7" y2="272.80" stroke="#333" stroke-width="0.8"/>
<text x="83.20" y="274.87" font-size="8.25" text-anchor="end" fill="#000"  stroke="#000" stroke-width="0.1">Reproduction</text>
<line x1="84.0" y1="282.40" x2="86.7" y2="282.40" stroke="#333" stroke-width="0.8"/>
<text x="83.20" y="284.47" font-size="8.25" text-anchor="end" fill="#000"  stroke="#000" stroke-width="0.1">Psychiatric</text>
<line x1="84.0" y1="292.00" x2="86.7" y2="292.00" stroke="#333" stroke-width="0.8"/>
<text x="83.20" y="294.07" font-size="8.25" text-anchor="end" fill="#000"  stroke="#000" stroke-width="0.1">Ophthalmological</text>
<line x1="84.0" y1="301.60" x2="86.7" y2="301.60" stroke="#333" stroke-width="0.8"/>
<text x="83.20" y="303.67" font-size="8.25" text-anchor="end" fill="#000"  stroke="#000" stroke-width="0.1">Nutritional</text>
<line x1="84.0" y1="311.20" x2="86.7" y2="311.20" stroke="#333" stroke-width="0.8"/>
<text x="83.20" y="313.27" font-size="8.25" text-anchor="end" fill="#000"  stroke="#000" stroke-width="0.1">Neurological</text>
<line x1="84.0" y1="320.80" x2="86.7" y2="320.80" stroke="#333" stroke-width="0.8"/>
<text x="83.20" y="322.87" font-size="8.25" text-anchor="end" fill="#000"  stroke="#000" stroke-width="0.1">Mortality</text>
<line x1="84.0" y1="330.40" x2="86.7" y2="330.40" stroke="#333" stroke-width="0.8"/>
<text x="83.20" y="332.47" font-size="8.25" text-anchor="end" fill="#000"  stroke="#000" stroke-width="0.1">Metabolic</text>
<line x1="84.0" y1="340.00" x2="86.7" y2="340.00" stroke="#333" stroke-width="0.8"/>
<text x="83.20" y="342.07" font-size="8.25" text-anchor="end" fill="#000"  stroke="#000" stroke-width="0.1">Immunological</text>
<line x1="84.0" y1="349.60" x2="86.7" y2="349.60" stroke="#333" stroke-width="0.8"/>
<text x="83.20" y="351.67" font-size="8.25" text-anchor="end" fill="#000"  stroke="#000" stroke-width="0.1">Hematological</text>
<line x1="84.0" y1="359.20" x2="86.7" y2="359.20" stroke="#333" stroke-width="0.8"/>
<text x="83.20" y="361.27" font-size="8.25" text-anchor="end" fill="#000"  stroke="#000" stroke-width="0.1">Gastrointestinal</text>
<line x1="84.0" y1="368.80" x2="86.7" y2="368.80" stroke="#333" stroke-width="0.8"/>
<text x="83.20" y="370.87" font-size="8.25" text-anchor="end" fill="#000"  stroke="#000" stroke-width="0.1">Environmental</text>
<line x1="84.0" y1="378.40" x2="86.7" y2="378.40" stroke="#333" stroke-width="0.8"/>
<text x="83.20" y="380.47" font-size="8.25" text-anchor="end" fill="#000"  stroke="#000" stroke-width="0.1">Environment</text>
<line x1="84.0" y1="388.00" x2="86.7" y2="388.00" stroke="#333" stroke-width="0.8"/>
<text x="83.20" y="390.07" font-size="8.25" text-anchor="end" fill="#000"  stroke="#000" stroke-width="0.1">Endocrine</text>
<line x1="84.0" y1="397.60" x2="86.7" y2="397.60" stroke="#333" stroke-width="0.8"/>
<text x="83.20" y="399.67" font-size="8.25" text-anchor="end" fill="#000"  stroke="#000" stroke-width="0.1">Ear, Nose, Throat</text>
<line x1="84.0" y1="407.20" x2="86.7" y2="407.20" stroke="#333" stroke-width="0.8"/>
<text x="83.20" y="409.27" font-size="8.25" text-anchor="end" fill="#000"  stroke="#000" stroke-width="0.1">Dermatological</text>
<line x1="84.0" y1="416.80" x2="86.7" y2="416.80" stroke="#333" stroke-width="0.8"/>
<text x="83.20" y="418.87" font-size="8.25" text-anchor="end" fill="#000"  stroke="#000" stroke-width="0.1">Cognitive</text>
<line x1="84.0" y1="426.40" x2="86.7" y2="426.40" stroke="#333" stroke-width="0.8"/>
<text x="83.20" y="428.47" font-size="8.25" text-anchor="end" fill="#000"  stroke="#000" stroke-width="0.1">Cell</text>
<line x1="84.0" y1="436.00" x2="86.7" y2="436.00" stroke="#333" stroke-width="0.8"/>
<text x="83.20" y="438.07" font-size="8.25" text-anchor="end" fill="#000"  stroke="#000" stroke-width="0.1">Cardiovascular</text>
<line x1="84.0" y1="445.60" x2="86.7" y2="445.60" stroke="#333" stroke-width="0.8"/>
<text x="83.20" y="447.67" font-size="8.25" text-anchor="end" fill="#000"  stroke="#000" stroke-width="0.1">Body Structures</text>
<line x1="84.0" y1="455.20" x2="86.7" y2="455.20" stroke="#333" stroke-width="0.8"/>
<text x="83.20" y="457.27" font-size="8.25" text-anchor="end" fill="#000"  stroke="#000" stroke-width="0.1">Activities</text>
<line x1="94.80" y1="465.4" x2="94.80" y2="467.8" stroke="#333" stroke-width="0.8"/>
<text x="94.80" y="476.25" font-size="8.2" text-anchor="middle" fill="#333"  stroke="#333" stroke-width="0.1">0</text>
<line x1="135.70" y1="465.4" x2="135.70" y2="467.8" stroke="#333" stroke-width="0.8"/>
<text x="135.70" y="476.25" font-size="8.2" text-anchor="middle" fill="#333"  stroke="#333" stroke-width="0.1">10</text>
<line x1="176.60" y1="465.4" x2="176.60" y2="467.8" stroke="#333" stroke-width="0.8"/>
<text x="176.60" y="476.25" font-size="8.2" text-anchor="middle" fill="#333"  stroke="#333" stroke-width="0.1">20</text>
<line x1="217.50" y1="465.4" x2="217.50" y2="467.8" stroke="#333" stroke-width="0.8"/>
<text x="217.50" y="476.25" font-size="8.2" text-anchor="middle" fill="#333"  stroke="#333" stroke-width="0.1">30</text>
<line x1="258.40" y1="465.4" x2="258.40" y2="467.8" stroke="#333" stroke-width="0.8"/>
<text x="258.40" y="476.25" font-size="8.2" text-anchor="middle" fill="#333"  stroke="#333" stroke-width="0.1">40</text>
<text x="179.7" y="489.5" font-size="9.9" text-anchor="middle" fill="#111" stroke="#111" stroke-width="0.1">-log<tspan font-size="6.3" dy="3.0">10</tspan><tspan dy="-3.0" font-style="italic">P</tspan> (PheWAS)</text>
<circle cx="100.0" cy="244.0" r="2.15" fill="#449690" fill-opacity="0.9"/>
<circle cx="101.4" cy="244.0" r="2.15" fill="#449690" fill-opacity="0.9"/>
<circle cx="99.8" cy="253.6" r="2.15" fill="#414b91" fill-opacity="0.9"/>
<circle cx="101.1" cy="253.6" r="2.15" fill="#414b91" fill-opacity="0.9"/>
<circle cx="102.5" cy="253.6" r="2.15" fill="#414b91" fill-opacity="0.9"/>
<circle cx="103.8" cy="253.6" r="2.15" fill="#414b91" fill-opacity="0.9"/>
<circle cx="109.7" cy="253.6" r="2.15" fill="#414b91" fill-opacity="0.9"/>
<circle cx="111.1" cy="253.6" r="2.15" fill="#414b91" fill-opacity="0.9"/>
<circle cx="112.6" cy="253.6" r="2.15" fill="#414b91" fill-opacity="0.9"/>
<circle cx="114.0" cy="253.6" r="2.15" fill="#414b91" fill-opacity="0.9"/>
<circle cx="123.3" cy="253.6" r="2.15" fill="#5c63a8" fill-opacity="0.9"/>
<circle cx="123.3" cy="253.6" r="2.15" fill="#5c63a8" fill-opacity="0.9"/>
<circle cx="141.2" cy="253.6" r="2.15" fill="#5c63a8" fill-opacity="0.9"/>
<circle cx="141.2" cy="253.6" r="2.15" fill="#5c63a8" fill-opacity="0.9"/>
<circle cx="145.0" cy="253.6" r="2.15" fill="#5c63a8" fill-opacity="0.9"/>
<circle cx="145.0" cy="253.6" r="2.15" fill="#5c63a8" fill-opacity="0.9"/>
<circle cx="159.1" cy="253.6" r="2.15" fill="#5c63a8" fill-opacity="0.9"/>
<circle cx="159.1" cy="253.6" r="2.15" fill="#5c63a8" fill-opacity="0.9"/>
<circle cx="234.5" cy="253.6" r="2.15" fill="#5c63a8" fill-opacity="0.9"/>
<circle cx="234.5" cy="253.6" r="2.15" fill="#5c63a8" fill-opacity="0.9"/>
<circle cx="101.8" cy="263.2" r="2.15" fill="#78c85a" fill-opacity="0.9"/>
<circle cx="103.3" cy="263.2" r="2.15" fill="#78c85a" fill-opacity="0.9"/>
<circle cx="104.8" cy="263.2" r="2.15" fill="#78c85a" fill-opacity="0.9"/>
<circle cx="106.3" cy="263.2" r="2.15" fill="#78c85a" fill-opacity="0.9"/>
<circle cx="107.8" cy="263.2" r="2.15" fill="#78c85a" fill-opacity="0.9"/>
<circle cx="109.3" cy="263.2" r="2.15" fill="#78c85a" fill-opacity="0.9"/>
<circle cx="110.8" cy="263.2" r="2.15" fill="#78c85a" fill-opacity="0.9"/>
<circle cx="112.3" cy="263.2" r="2.15" fill="#78c85a" fill-opacity="0.9"/>
<circle cx="113.8" cy="263.2" r="2.15" fill="#78c85a" fill-opacity="0.9"/>
<circle cx="100.5" cy="272.8" r="2.15" fill="#5d4a9c" fill-opacity="0.9"/>
<circle cx="102.0" cy="272.8" r="2.15" fill="#5d4a9c" fill-opacity="0.9"/>
<circle cx="103.5" cy="272.8" r="2.15" fill="#5d4a9c" fill-opacity="0.9"/>
<circle cx="104.9" cy="272.8" r="2.15" fill="#5d4a9c" fill-opacity="0.9"/>
<circle cx="106.4" cy="272.8" r="2.15" fill="#5d4a9c" fill-opacity="0.9"/>
<circle cx="107.9" cy="272.8" r="2.15" fill="#5d4a9c" fill-opacity="0.9"/>
<circle cx="100.5" cy="282.4" r="2.15" fill="#46214f" fill-opacity="0.9"/>
<circle cx="101.8" cy="282.4" r="2.15" fill="#46214f" fill-opacity="0.9"/>
<circle cx="103.0" cy="282.4" r="2.15" fill="#46214f" fill-opacity="0.9"/>
<circle cx="104.3" cy="282.4" r="2.15" fill="#46214f" fill-opacity="0.9"/>
<circle cx="114.4" cy="282.4" r="2.15" fill="#5a1d4a" fill-opacity="0.9"/>
<circle cx="114.4" cy="282.4" r="2.15" fill="#5a1d4a" fill-opacity="0.9"/>
<circle cx="104.0" cy="292.0" r="2.15" fill="#5cc470" fill-opacity="0.9"/>
<circle cx="104.0" cy="292.0" r="2.15" fill="#5cc470" fill-opacity="0.9"/>
<circle cx="100.5" cy="301.6" r="2.15" fill="#3bb38a" fill-opacity="0.9"/>
<circle cx="101.8" cy="301.6" r="2.15" fill="#3bb38a" fill-opacity="0.9"/>
<circle cx="103.0" cy="301.6" r="2.15" fill="#3bb38a" fill-opacity="0.9"/>
<circle cx="104.3" cy="301.6" r="2.15" fill="#3bb38a" fill-opacity="0.9"/>
<circle cx="112.2" cy="301.6" r="2.15" fill="#7ccb8c" fill-opacity="0.9"/>
<circle cx="112.2" cy="301.6" r="2.15" fill="#7ccb8c" fill-opacity="0.9"/>
<circle cx="100.5" cy="311.2" r="2.15" fill="#2fa987" fill-opacity="0.9"/>
<circle cx="101.8" cy="311.2" r="2.15" fill="#2fa987" fill-opacity="0.9"/>
<circle cx="103.0" cy="311.2" r="2.15" fill="#2fa987" fill-opacity="0.9"/>
<circle cx="104.3" cy="311.2" r="2.15" fill="#2fa987" fill-opacity="0.9"/>
<circle cx="100.8" cy="320.8" r="2.15" fill="#3b7f99" fill-opacity="0.9"/>
<circle cx="100.8" cy="320.8" r="2.15" fill="#3b7f99" fill-opacity="0.9"/>
<circle cx="108.3" cy="320.8" r="2.15" fill="#4a86a2" fill-opacity="0.9"/>
<circle cx="108.3" cy="320.8" r="2.15" fill="#4a86a2" fill-opacity="0.9"/>
<circle cx="100.5" cy="330.4" r="2.15" fill="#4c4894" fill-opacity="0.9"/>
<circle cx="102.0" cy="330.4" r="2.15" fill="#4c4894" fill-opacity="0.9"/>
<circle cx="103.5" cy="330.4" r="2.15" fill="#4c4894" fill-opacity="0.9"/>
<circle cx="105.0" cy="330.4" r="2.15" fill="#4c4894" fill-opacity="0.9"/>
<circle cx="106.5" cy="330.4" r="2.15" fill="#4c4894" fill-opacity="0.9"/>
<circle cx="108.0" cy="330.4" r="2.15" fill="#4c4894" fill-opacity="0.9"/>
<circle cx="109.5" cy="330.4" r="2.15" fill="#4c4894" fill-opacity="0.9"/>
<circle cx="111.0" cy="330.4" r="2.15" fill="#4c4894" fill-opacity="0.9"/>
<circle cx="112.5" cy="330.4" r="2.15" fill="#4c4894" fill-opacity="0.9"/>
<circle cx="114.0" cy="330.4" r="2.15" fill="#4c4894" fill-opacity="0.9"/>
<circle cx="115.5" cy="330.4" r="2.15" fill="#4c4894" fill-opacity="0.9"/>
<circle cx="117.0" cy="330.4" r="2.15" fill="#4c4894" fill-opacity="0.9"/>
<circle cx="118.4" cy="330.4" r="2.15" fill="#4c4894" fill-opacity="0.9"/>
<circle cx="119.9" cy="330.4" r="2.15" fill="#4c4894" fill-opacity="0.9"/>
<circle cx="121.4" cy="330.4" r="2.15" fill="#4c4894" fill-opacity="0.9"/>
<circle cx="122.9" cy="330.4" r="2.15" fill="#4c4894" fill-opacity="0.9"/>
<circle cx="124.4" cy="330.4" r="2.15" fill="#4c4894" fill-opacity="0.9"/>
<circle cx="125.9" cy="330.4" r="2.15" fill="#4c4894" fill-opacity="0.9"/>
<circle cx="127.4" cy="330.4" r="2.15" fill="#4c4894" fill-opacity="0.9"/>
<circle cx="128.9" cy="330.4" r="2.15" fill="#4c4894" fill-opacity="0.9"/>
<circle cx="130.4" cy="330.4" r="2.15" fill="#4c4894" fill-opacity="0.9"/>
<circle cx="131.9" cy="330.4" r="2.15" fill="#4c4894" fill-opacity="0.9"/>
<circle cx="133.4" cy="330.4" r="2.15" fill="#4c4894" fill-opacity="0.9"/>
<circle cx="100.5" cy="340.0" r="2.15" fill="#4a2a66" fill-opacity="0.9"/>
<circle cx="101.8" cy="340.0" r="2.15" fill="#4a2a66" fill-opacity="0.9"/>
<circle cx="103.1" cy="340.0" r="2.15" fill="#4a2a66" fill-opacity="0.9"/>
<circle cx="100.9" cy="349.6" r="2.15" fill="#c8dc50" fill-opacity="0.9"/>
<circle cx="100.9" cy="349.6" r="2.15" fill="#c8dc50" fill-opacity="0.9"/>
<circle cx="101.5" cy="359.2" r="2.15" fill="#a6d64c" fill-opacity="0.9"/>
<circle cx="102.7" cy="359.2" r="2.15" fill="#a6d64c" fill-opacity="0.9"/>
<circle cx="103.8" cy="359.2" r="2.15" fill="#a6d64c" fill-opacity="0.9"/>
<circle cx="101.5" cy="368.8" r="2.15" fill="#f0d640" fill-opacity="0.9"/>
<circle cx="102.7" cy="368.8" r="2.15" fill="#f0d640" fill-opacity="0.9"/>
<circle cx="103.8" cy="368.8" r="2.15" fill="#f0d640" fill-opacity="0.9"/>
<circle cx="100.7" cy="378.4" r="2.15" fill="#338490" fill-opacity="0.9"/>
<circle cx="102.0" cy="378.4" r="2.15" fill="#338490" fill-opacity="0.9"/>
<circle cx="103.2" cy="378.4" r="2.15" fill="#338490" fill-opacity="0.9"/>
<circle cx="104.5" cy="378.4" r="2.15" fill="#338490" fill-opacity="0.9"/>
<circle cx="100.7" cy="388.0" r="2.15" fill="#4e5fa0" fill-opacity="0.9"/>
<circle cx="102.0" cy="388.0" r="2.15" fill="#4e5fa0" fill-opacity="0.9"/>
<circle cx="102.6" cy="397.6" r="2.15" fill="#5ec46c" fill-opacity="0.9"/>
<circle cx="102.6" cy="397.6" r="2.15" fill="#5ec46c" fill-opacity="0.9"/>
<circle cx="101.5" cy="407.2" r="2.15" fill="#56c28c" fill-opacity="0.9"/>
<circle cx="102.7" cy="407.2" r="2.15" fill="#56c28c" fill-opacity="0.9"/>
<circle cx="99.6" cy="416.8" r="2.15" fill="#5a3e96" fill-opacity="0.9"/>
<circle cx="99.6" cy="416.8" r="2.15" fill="#5a3e96" fill-opacity="0.9"/>
<circle cx="104.6" cy="416.8" r="2.15" fill="#5a3e96" fill-opacity="0.9"/>
<circle cx="104.6" cy="416.8" r="2.15" fill="#5a3e96" fill-opacity="0.9"/>
<circle cx="100.2" cy="426.4" r="2.15" fill="#2f7f8e" fill-opacity="0.9"/>
<circle cx="101.5" cy="426.4" r="2.15" fill="#2f7f8e" fill-opacity="0.9"/>
<circle cx="102.9" cy="426.4" r="2.15" fill="#2f7f8e" fill-opacity="0.9"/>
<circle cx="104.2" cy="426.4" r="2.15" fill="#2f7f8e" fill-opacity="0.9"/>
<circle cx="105.6" cy="426.4" r="2.15" fill="#2f7f8e" fill-opacity="0.9"/>
<circle cx="107.0" cy="426.4" r="2.15" fill="#2f7f8e" fill-opacity="0.9"/>
<circle cx="108.3" cy="426.4" r="2.15" fill="#2f7f8e" fill-opacity="0.9"/>
<circle cx="100.7" cy="436.0" r="2.15" fill="#3d6699" fill-opacity="0.9"/>
<circle cx="102.0" cy="436.0" r="2.15" fill="#3d6699" fill-opacity="0.9"/>
<circle cx="103.2" cy="436.0" r="2.15" fill="#3d6699" fill-opacity="0.9"/>
<circle cx="104.5" cy="436.0" r="2.15" fill="#3d6699" fill-opacity="0.9"/>
<circle cx="105.7" cy="436.0" r="2.15" fill="#3d6699" fill-opacity="0.9"/>
<circle cx="107.0" cy="436.0" r="2.15" fill="#3d6699" fill-opacity="0.9"/>
<circle cx="113.2" cy="436.0" r="2.15" fill="#3d6699" fill-opacity="0.9"/>
<circle cx="113.2" cy="436.0" r="2.15" fill="#3d6699" fill-opacity="0.9"/>
<circle cx="100.3" cy="445.6" r="2.15" fill="#8ed05a" fill-opacity="0.9"/>
<circle cx="101.0" cy="445.6" r="2.15" fill="#8ed05a" fill-opacity="0.9"/>
<circle cx="100.7" cy="455.2" r="2.15" fill="#34a08c" fill-opacity="0.9"/>
<circle cx="102.0" cy="455.2" r="2.15" fill="#34a08c" fill-opacity="0.9"/>
<circle cx="103.2" cy="455.2" r="2.15" fill="#34a08c" fill-opacity="0.9"/>
<circle cx="104.5" cy="455.2" r="2.15" fill="#34a08c" fill-opacity="0.9"/>
<circle cx="105.8" cy="455.2" r="2.15" fill="#34a08c" fill-opacity="0.9"/>
<circle cx="107.0" cy="455.2" r="2.15" fill="#34a08c" fill-opacity="0.9"/>
<circle cx="108.3" cy="455.2" r="2.15" fill="#34a08c" fill-opacity="0.9"/>
<circle cx="117.3" cy="455.2" r="2.15" fill="#4db093" fill-opacity="0.9"/>
<circle cx="117.3" cy="455.2" r="2.15" fill="#4db093" fill-opacity="0.9"/>
<line x1="114.6" y1="233.5" x2="114.6" y2="464" stroke="#ef6868" stroke-width="1.05" stroke-dasharray="5.8 6.2" stroke-dashoffset="4.2"/>
<text x="163.50" y="245.98" font-size="8" text-anchor="start" fill="#000"  stroke="#000" stroke-width="0.1">Height</text>
<text x="154.70" y="263.08" font-size="8" text-anchor="start" fill="#000"  stroke="#000" stroke-width="0.1">Standing height</text>
<text x="228.00" y="263.08" font-size="8" text-anchor="start" fill="#000"  stroke="#000" stroke-width="0.1">Height</text>
<text x="126.30" y="276.98" font-size="8" text-anchor="start" fill="#000"  stroke="#000" stroke-width="0.1">Sitting height</text>
<text x="139.40" y="332.98" font-size="8" text-anchor="start" fill="#000"  stroke="#000" stroke-width="0.1">Leg fat percentage (right)</text>
<line x1="148.6" y1="251.0" x2="159.9" y2="244.6" stroke="#6f8fd6" stroke-width="0.6" stroke-dasharray="1.3 0.7"/>
<path d="M160.2 244.4 l-2.1 0.1 M160.2 244.4 l-1.0 1.8" stroke="#7a9ad8" stroke-width="0.6" fill="none"/>
<line x1="140.7" y1="255.6" x2="140.4" y2="268.3" stroke="#6f8fd6" stroke-width="0.6" stroke-dasharray="1.3 0.7"/>
<path d="M140.4 268.6 l-0.9 -1.9 M140.4 268.6 l0.9 -1.9" stroke="#6f8fd6" stroke-width="0.6" fill="none"/>
<text x="295.5" y="242.9" font-size="11.5" font-weight="bold" fill="#111" stroke="#111" stroke-width="0.1">d</text>
<path d="M428.10,298.2 C428.10,332.65 323.60,332.65 323.60,367.1 L334.40,367.1 C334.40,332.65 438.30,332.65 438.30,298.2 Z" fill="#2d9bd7" fill-opacity="0.5"/>
<path d="M532.50,298.2 C532.50,332.65 397.70,332.65 397.70,367.1 L407.40,367.1 C407.40,332.65 542.50,332.65 542.50,298.2 Z" fill="#b57d19" fill-opacity="0.5"/>
<path d="M542.50,298.2 C542.50,332.65 542.90,332.65 542.90,367.1 L563.60,367.1 C563.60,332.65 563.60,332.65 563.60,298.2 Z" fill="#b57d19" fill-opacity="0.5"/>
<path d="M459.60,298.2 C459.60,332.65 355.40,332.65 355.40,367.1 L397.70,367.1 C397.70,332.65 501.30,332.65 501.30,298.2 Z" fill="#55a52d" fill-opacity="0.5"/>
<path d="M501.30,298.2 C501.30,332.65 511.40,332.65 511.40,367.1 L542.90,367.1 C542.90,332.65 532.50,332.65 532.50,298.2 Z" fill="#55a52d" fill-opacity="0.5"/>
<path d="M438.30,298.2 C438.30,332.65 490.50,332.65 490.50,367.1 L511.40,367.1 C511.40,332.65 459.60,332.65 459.60,298.2 Z" fill="#41b991" fill-opacity="0.5"/>
<path d="M323.60,298.2 C323.60,332.65 334.40,332.65 334.40,367.1 L355.40,367.1 C355.40,332.65 344.60,332.65 344.60,298.2 Z" fill="#bd62a6" fill-opacity="0.5"/>
<path d="M344.60,298.2 C344.60,332.65 407.40,332.65 407.40,367.1 L490.50,367.1 C490.50,332.65 428.10,332.65 428.10,298.2 Z" fill="#7d69c3" fill-opacity="0.5"/>
<path d="M563.60,298.2 C563.60,332.65 563.60,332.65 563.60,367.1 L594.80,367.1 C594.80,332.65 594.80,332.65 594.80,298.2 Z" fill="#eb6955" fill-opacity="0.5"/>
<rect x="323.6" y="291.9" width="271.20" height="6.30" rx="0.9" fill="#b3b3b3" stroke="#474747" stroke-width="0.85"/>
<line x1="344.6" y1="291.9" x2="344.6" y2="298.2" stroke="#333" stroke-width="0.8"/>
<line x1="428.1" y1="291.9" x2="428.1" y2="298.2" stroke="#333" stroke-width="0.8"/>
<line x1="438.3" y1="291.9" x2="438.3" y2="298.2" stroke="#333" stroke-width="0.8"/>
<line x1="459.6" y1="291.9" x2="459.6" y2="298.2" stroke="#333" stroke-width="0.8"/>
<line x1="532.5" y1="291.9" x2="532.5" y2="298.2" stroke="#333" stroke-width="0.8"/>
<line x1="563.6" y1="291.9" x2="563.6" y2="298.2" stroke="#333" stroke-width="0.8"/>
<rect x="323.6" y="367.1" width="271.20" height="5.90" rx="0.9" fill="#b3b3b3" stroke="#474747" stroke-width="0.85"/>
<line x1="334.4" y1="367.1" x2="334.4" y2="373.0" stroke="#333" stroke-width="0.8"/>
<line x1="407.4" y1="367.1" x2="407.4" y2="373.0" stroke="#333" stroke-width="0.8"/>
<line x1="449.0" y1="367.1" x2="449.0" y2="373.0" stroke="#333" stroke-width="0.8"/>
<line x1="511.4" y1="367.1" x2="511.4" y2="373.0" stroke="#333" stroke-width="0.8"/>
<line x1="542.9" y1="367.1" x2="542.9" y2="373.0" stroke="#333" stroke-width="0.8"/>
<text x="617.6" y="299.3" font-size="9" fill="#000" textLength="29" lengthAdjust="spacingAndGlyphs" stroke="#000" stroke-width="0.1">Chicken</text>
<text x="617.6" y="374.1" font-size="9" fill="#000" textLength="26.4" lengthAdjust="spacingAndGlyphs" stroke="#000" stroke-width="0.1">Human</text>
<text x="328.8" y="285.5" font-size="7.8" fill="#000" transform="rotate(-19 328.8 285.5)" stroke="#000" stroke-width="0.1">upstream_gene_variant</text>
<text x="381.90000000000003" y="285.5" font-size="7.8" fill="#000" transform="rotate(-19 381.90000000000003 285.5)" stroke="#000" stroke-width="0.1">synonymous_variant</text>
<text x="429.5" y="284.9" font-size="7.8" fill="#000" transform="rotate(-19 429.5 284.9)" stroke="#000" stroke-width="0.1">stop_retained_variant</text>
<text x="450.8" y="286.5" font-size="7.8" fill="#000" transform="rotate(-19 450.8 286.5)" stroke="#000" stroke-width="0.1">missense_variant</text>
<text x="493.7" y="286.5" font-size="7.8" fill="#000" transform="rotate(-19 493.7 286.5)" stroke="#000" stroke-width="0.1">intron_variant</text>
<text x="540.9" y="286.5" font-size="7.8" fill="#000" transform="rotate(-19 540.9 286.5)" stroke="#000" stroke-width="0.1">downstream_gene_variant</text>
<text x="571.3" y="286.5" font-size="7.8" fill="#000" transform="rotate(-19 571.3 286.5)" stroke="#000" stroke-width="0.1">3_prime_UTR_variant</text>
<text x="327.0" y="383.9" font-size="7.6" text-anchor="end" fill="#000" transform="rotate(-19 327.0 378.4)" stroke="#000" stroke-width="0.1">stop_lost</text>
<text x="375.5" y="382.4" font-size="7.6" text-anchor="end" fill="#000" transform="rotate(-19 375.5 376.9)" stroke="#000" stroke-width="0.1">upstream_gene_variant</text>
<text x="425.1" y="383.9" font-size="7.6" text-anchor="end" fill="#000" transform="rotate(-19 425.1 378.4)" stroke="#000" stroke-width="0.1">synonymous_variant</text>
<text x="479.7" y="381.0" font-size="7.6" text-anchor="end" fill="#000" transform="rotate(-19 479.7 375.5)" stroke="#000" stroke-width="0.1">missense_variant</text>
<text x="524.3" y="381.6" font-size="7.6" text-anchor="end" fill="#000" transform="rotate(-19 524.3 376.1)" stroke="#000" stroke-width="0.1">intron_variant</text>
<text x="567.3" y="380.6" font-size="7.6" text-anchor="end" fill="#000" transform="rotate(-19 567.3 375.1)" stroke="#000" stroke-width="0.1">3_prime_UTR_variant</text>
<text x="295.8" y="441.8" font-size="11" font-weight="bold" fill="#111" stroke="#111" stroke-width="0.1">e</text>
<text x="493.4" y="429.42" font-size="10.6" text-anchor="middle" fill="#111" textLength="178" lengthAdjust="spacingAndGlyphs" stroke="#111" stroke-width="0.1">Chicken growth-related functional genes</text>
<text x="331.00" y="454.44" font-size="9" text-anchor="start" fill="#000"  stroke="#000" stroke-width="0.1">Chicken</text>
<text x="288.00" y="481.04" font-size="9" text-anchor="start" fill="#000"  stroke="#000" stroke-width="0.1">Human</text>
<line x1="374.7" y1="452.1" x2="386.4" y2="452.1" stroke="#3a3a3a" stroke-width="1.25"/>
<line x1="405.3" y1="452.1" x2="426.6" y2="452.1" stroke="#2f80c8" stroke-width="1.25"/>
<line x1="446.2" y1="452.1" x2="465.2" y2="452.1" stroke="#2f80c8" stroke-width="1.25"/>
<line x1="484" y1="452.1" x2="512.4" y2="452.1" stroke="#3a3a3a" stroke-width="1.25"/>
<line x1="531.2" y1="452.1" x2="553.2" y2="452.1" stroke="#2f80c8" stroke-width="1.25"/>
<line x1="572" y1="452.1" x2="591.8" y2="452.1" stroke="#2f80c8" stroke-width="1.25"/>
<line x1="610" y1="452.1" x2="622.9" y2="452.1" stroke="#3a3a3a" stroke-width="1.25"/>
<path d="M413.15,455.3 L415.55,448.90000000000003 L419.05,448.90000000000003 L416.65,455.3 Z" fill="#fff"/>
<line x1="413.15" y1="455.3" x2="415.55" y2="448.90000000000003" stroke="#2f80c8" stroke-width="1.25"/>
<line x1="416.65" y1="455.3" x2="419.05" y2="448.90000000000003" stroke="#2f80c8" stroke-width="1.25"/>
<path d="M451.15,455.3 L453.55,448.90000000000003 L457.05,448.90000000000003 L454.65,455.3 Z" fill="#fff"/>
<line x1="451.15" y1="455.3" x2="453.55" y2="448.90000000000003" stroke="#2f80c8" stroke-width="1.25"/>
<line x1="454.65" y1="455.3" x2="457.05" y2="448.90000000000003" stroke="#2f80c8" stroke-width="1.25"/>
<path d="M495.25,455.3 L497.65,448.90000000000003 L501.15,448.90000000000003 L498.75,455.3 Z" fill="#fff"/>
<line x1="495.25" y1="455.3" x2="497.65" y2="448.90000000000003" stroke="#3a3a3a" stroke-width="1.25"/>
<line x1="498.75" y1="455.3" x2="501.15" y2="448.90000000000003" stroke="#3a3a3a" stroke-width="1.25"/>
<path d="M539.25,455.3 L541.65,448.90000000000003 L545.15,448.90000000000003 L542.75,455.3 Z" fill="#fff"/>
<line x1="539.25" y1="455.3" x2="541.65" y2="448.90000000000003" stroke="#2f80c8" stroke-width="1.25"/>
<line x1="542.75" y1="455.3" x2="545.15" y2="448.90000000000003" stroke="#2f80c8" stroke-width="1.25"/>
<path d="M577.55,455.3 L579.95,448.90000000000003 L583.45,448.90000000000003 L581.05,455.3 Z" fill="#fff"/>
<line x1="577.55" y1="455.3" x2="579.95" y2="448.90000000000003" stroke="#2f80c8" stroke-width="1.25"/>
<line x1="581.05" y1="455.3" x2="583.45" y2="448.90000000000003" stroke="#2f80c8" stroke-width="1.25"/>
<rect x="386.4" y="447.50" width="18.90" height="9.2" fill="#f38b6f"/>
<text x="395.85" y="454.50" font-size="8.4" text-anchor="middle" fill="#3b2418" textLength="15.6" lengthAdjust="spacingAndGlyphs" stroke="#3b2418" stroke-width="0.1">exon</text>
<rect x="426.6" y="447.50" width="19.60" height="9.2" fill="#f38b6f"/>
<text x="436.40" y="454.50" font-size="8.4" text-anchor="middle" fill="#3b2418" textLength="15.6" lengthAdjust="spacingAndGlyphs" stroke="#3b2418" stroke-width="0.1">exon</text>
<path d="M465.2,447.6 L476.4,447.6 L476.4,444.3 L484.2,452.1 L476.4,459.90000000000003 L476.4,456.6 L465.2,456.6 Z" fill="#f38b6f"/>
<text x="474.40" y="454.50" font-size="8.4" text-anchor="middle" fill="#3b2418" textLength="15.2" lengthAdjust="spacingAndGlyphs" stroke="#3b2418" stroke-width="0.1">exon</text>
<rect x="512.4" y="447.50" width="18.80" height="9.2" fill="#f38b6f"/>
<text x="521.80" y="454.50" font-size="8.4" text-anchor="middle" fill="#3b2418" textLength="15.6" lengthAdjust="spacingAndGlyphs" stroke="#3b2418" stroke-width="0.1">exon</text>
<rect x="553.2" y="447.50" width="18.80" height="9.2" fill="#f38b6f"/>
<text x="562.60" y="454.50" font-size="8.4" text-anchor="middle" fill="#3b2418" textLength="15.6" lengthAdjust="spacingAndGlyphs" stroke="#3b2418" stroke-width="0.1">exon</text>
<path d="M591.8,447.6 L602.8000000000001,447.6 L602.8000000000001,444.3 L610.6,452.1 L602.8000000000001,459.90000000000003 L602.8000000000001,456.6 L591.8,456.6 Z" fill="#f38b6f"/>
<text x="600.90" y="454.50" font-size="8.4" text-anchor="middle" fill="#3b2418" textLength="15.2" lengthAdjust="spacingAndGlyphs" stroke="#3b2418" stroke-width="0.1">exon</text>
<line x1="325.2" y1="479.4" x2="336.2" y2="479.4" stroke="#3a3a3a" stroke-width="1.25"/>
<line x1="357.2" y1="479.4" x2="398" y2="479.4" stroke="#2f80c8" stroke-width="1.25"/>
<line x1="418.5" y1="479.4" x2="459.3" y2="479.4" stroke="#2f80c8" stroke-width="1.25"/>
<line x1="478" y1="479.4" x2="513" y2="479.4" stroke="#3a3a3a" stroke-width="1.25"/>
<line x1="533.7" y1="479.4" x2="574.5" y2="479.4" stroke="#2f80c8" stroke-width="1.25"/>
<line x1="594.6" y1="479.4" x2="635.4" y2="479.4" stroke="#2f80c8" stroke-width="1.25"/>
<line x1="654" y1="479.4" x2="667.1" y2="479.4" stroke="#3a3a3a" stroke-width="1.25"/>
<path d="M374.65,482.59999999999997 L377.05,476.2 L380.55,476.2 L378.15,482.59999999999997 Z" fill="#fff"/>
<line x1="374.65" y1="482.59999999999997" x2="377.05" y2="476.2" stroke="#2f80c8" stroke-width="1.25"/>
<line x1="378.15" y1="482.59999999999997" x2="380.55" y2="476.2" stroke="#2f80c8" stroke-width="1.25"/>
<path d="M435.95,482.59999999999997 L438.35,476.2 L441.85,476.2 L439.45,482.59999999999997 Z" fill="#fff"/>
<line x1="435.95" y1="482.59999999999997" x2="438.35" y2="476.2" stroke="#2f80c8" stroke-width="1.25"/>
<line x1="439.45" y1="482.59999999999997" x2="441.85" y2="476.2" stroke="#2f80c8" stroke-width="1.25"/>
<path d="M494.65,482.59999999999997 L497.05,476.2 L500.55,476.2 L498.15,482.59999999999997 Z" fill="#fff"/>
<line x1="494.65" y1="482.59999999999997" x2="497.05" y2="476.2" stroke="#3a3a3a" stroke-width="1.25"/>
<line x1="498.15" y1="482.59999999999997" x2="500.55" y2="476.2" stroke="#3a3a3a" stroke-width="1.25"/>
<path d="M550.25,482.59999999999997 L552.65,476.2 L556.15,476.2 L553.75,482.59999999999997 Z" fill="#fff"/>
<line x1="550.25" y1="482.59999999999997" x2="552.65" y2="476.2" stroke="#2f80c8" stroke-width="1.25"/>
<line x1="553.75" y1="482.59999999999997" x2="556.15" y2="476.2" stroke="#2f80c8" stroke-width="1.25"/>
<path d="M611.45,482.59999999999997 L613.85,476.2 L617.35,476.2 L614.95,482.59999999999997 Z" fill="#fff"/>
<line x1="611.45" y1="482.59999999999997" x2="613.85" y2="476.2" stroke="#2f80c8" stroke-width="1.25"/>
<line x1="614.95" y1="482.59999999999997" x2="617.35" y2="476.2" stroke="#2f80c8" stroke-width="1.25"/>
<rect x="336.2" y="474.80" width="21.00" height="9.2" fill="#f38b6f"/>
<text x="346.70" y="481.80" font-size="8.4" text-anchor="middle" fill="#3b2418" textLength="15.6" lengthAdjust="spacingAndGlyphs" stroke="#3b2418" stroke-width="0.1">exon</text>
<rect x="398" y="474.80" width="20.50" height="9.2" fill="#f38b6f"/>
<text x="408.25" y="481.80" font-size="8.4" text-anchor="middle" fill="#3b2418" textLength="15.6" lengthAdjust="spacingAndGlyphs" stroke="#3b2418" stroke-width="0.1">exon</text>
<path d="M459.3,474.9 L471.2,474.9 L471.2,471.59999999999997 L479.0,479.4 L471.2,487.2 L471.2,483.9 L459.3,483.9 Z" fill="#f38b6f"/>
<text x="468.85" y="481.80" font-size="8.4" text-anchor="middle" fill="#3b2418" textLength="15.2" lengthAdjust="spacingAndGlyphs" stroke="#3b2418" stroke-width="0.1">exon</text>
<rect x="513" y="474.80" width="20.70" height="9.2" fill="#f38b6f"/>
<text x="523.35" y="481.80" font-size="8.4" text-anchor="middle" fill="#3b2418" textLength="15.6" lengthAdjust="spacingAndGlyphs" stroke="#3b2418" stroke-width="0.1">exon</text>
<rect x="574.5" y="474.80" width="20.10" height="9.2" fill="#f38b6f"/>
<text x="584.55" y="481.80" font-size="8.4" text-anchor="middle" fill="#3b2418" textLength="15.6" lengthAdjust="spacingAndGlyphs" stroke="#3b2418" stroke-width="0.1">exon</text>
<path d="M635.4,474.9 L647.4000000000001,474.9 L647.4000000000001,471.59999999999997 L655.2,479.4 L647.4000000000001,487.2 L647.4000000000001,483.9 L635.4,483.9 Z" fill="#f38b6f"/>
<text x="645.00" y="481.80" font-size="8.4" text-anchor="middle" fill="#3b2418" textLength="15.2" lengthAdjust="spacingAndGlyphs" stroke="#3b2418" stroke-width="0.1">exon</text>
<line x1="401.8" y1="457.8" x2="360.7" y2="474.8" stroke="#6f9fd8" stroke-width="0.6"/>
<line x1="425.8" y1="457.8" x2="398.0" y2="474.8" stroke="#6f9fd8" stroke-width="0.6"/>
<line x1="481.5" y1="460.5" x2="477.2" y2="472.2" stroke="#888" stroke-width="0.6"/>
<line x1="511.9" y1="457.8" x2="513.2" y2="474.5" stroke="#888" stroke-width="0.6"/>
<text x="393.60" y="443.94" font-size="7.6" text-anchor="middle" fill="#ef8a78"  stroke="#ef8a78" stroke-width="0.1">222 bp</text>
<text x="421.20" y="443.94" font-size="7.6" text-anchor="middle" fill="#3b82c8"  stroke="#3b82c8" stroke-width="0.1">2.5 kb</text>
<text x="499.60" y="445.04" font-size="7.6" text-anchor="middle" fill="#333"  stroke="#333" stroke-width="0.1">11.9 kb</text>
<text x="346.20" y="494.24" font-size="7.6" text-anchor="middle" fill="#ef8a78"  stroke="#ef8a78" stroke-width="0.1">247 bp</text>
<text x="378.70" y="494.24" font-size="7.6" text-anchor="middle" fill="#3b82c8"  stroke="#3b82c8" stroke-width="0.1">4.6 kb</text>
<text x="497.00" y="494.34" font-size="7.6" text-anchor="middle" fill="#333"  stroke="#333" stroke-width="0.1">14.7 kb</text>
</svg>
</body></html>
